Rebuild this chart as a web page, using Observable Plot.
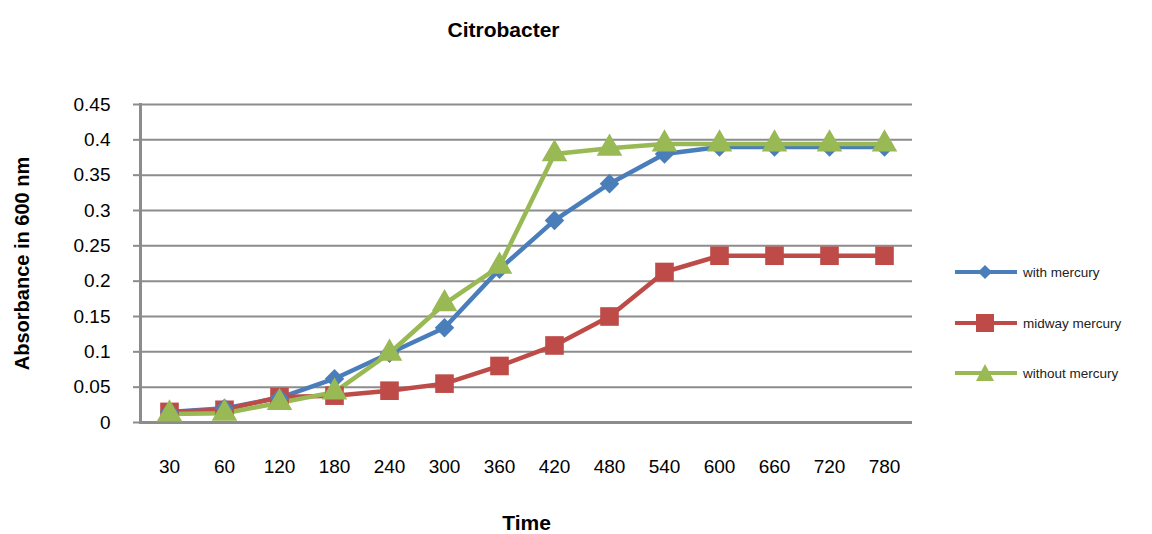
<!DOCTYPE html>
<html>
<head>
<meta charset="utf-8">
<script src="https://cdn.jsdelivr.net/npm/d3@7"></script>
<script src="https://cdn.jsdelivr.net/npm/@observablehq/plot@0.6"></script>
<style>
  html, body { margin: 0; padding: 0; background: #fff; }
  #wrap { position: relative; width: 1152px; height: 534px; font-family: "Liberation Sans", Arial, sans-serif; }
  .leg { position: absolute; left: 955px; display: flex; align-items: center; font-size: 13.5px; color: #222; font-family: "Liberation Sans", Arial, sans-serif; }
  .leg svg { margin-right: 6px; }
</style>
</head>
<body>
<div id="wrap"></div>
<script>
const times = ["30","60","120","180","240","300","360","420","480","540","600","660","720","780"];
const withMercury    = [0.015,0.02,0.035,0.062,0.098,0.134,0.217,0.286,0.338,0.38,0.39,0.39,0.39,0.39];
const midwayMercury  = [0.015,0.018,0.036,0.038,0.045,0.055,0.08,0.109,0.15,0.213,0.236,0.236,0.236,0.236];
const withoutMercury = [0.012,0.013,0.028,0.043,0.098,0.168,0.221,0.38,0.388,0.394,0.394,0.394,0.394,0.394];
const seriesNames = ["with mercury","midway mercury","without mercury"];
const seriesColors = ["#4a7ebb","#be4b48","#98b954"];
const yTicks = [0,0.05,0.1,0.15,0.2,0.25,0.3,0.35,0.4,0.45];
const title = "Citrobacter";
const xTitle = "Time";
const yTitle = "Absorbance in 600 nm";

const seriesValues = [withMercury, midwayMercury, withoutMercury];
const rows = [];
seriesNames.forEach((s, i) => times.forEach((t, j) => rows.push({series: s, time: t, value: seriesValues[i][j]})));

const font = "Liberation Sans, Arial, sans-serif";
const chart = Plot.plot({
  width: 1152, height: 534,
  marginLeft: 140, marginRight: 240, marginTop: 104, marginBottom: 112,
  style: {fontFamily: font, background: "#fff", overflow: "visible"},
  x: {type: "point", domain: times, padding: 0.5},
  y: {domain: [0, 0.45]},
  color: {domain: seriesNames, range: seriesColors},
  marks: [
    Plot.ruleY(yTicks, {stroke: "#8c8c8c", strokeWidth: 2}),
    Plot.ruleY([0], {stroke: "#8c8c8c", strokeWidth: 3}),
    Plot.frame({anchor: "left", stroke: "#8c8c8c", strokeWidth: 3}),
    Plot.axisY({ticks: yTicks, tickSize: 7, tickPadding: 23, stroke: "#8c8c8c", strokeWidth: 2, fontSize: 19, fill: "#000",
      tickFormat: d => String(+d.toFixed(2)), label: null}),
    Plot.axisX({tickSize: 0, tickPadding: 37, fontSize: 19, fill: "#000", label: null}),
    Plot.line(rows, {x: "time", y: "value", z: "series", stroke: "series", strokeWidth: 4.5}),
    Plot.dot(rows.filter(d => d.series === "midway mercury"), {x: "time", y: "value", symbol: "square", r: 10.5, fill: "series", stroke: null}),
    Plot.dot(rows.filter(d => d.series === "with mercury"), {x: "time", y: "value", symbol: "square", rotate: 45, r: 7.8, fill: "series", stroke: null}),
    Plot.dot(rows.filter(d => d.series === "without mercury"), {x: "time", y: "value", symbol: "triangle", r: 9.5, fill: "series", stroke: null}),
    Plot.text([yTitle], {frameAnchor: "left", dx: -118, rotate: -90, textAnchor: "middle", fontWeight: "bold", fontSize: 20, fill: "#000"}),
    Plot.text([xTitle], {frameAnchor: "bottom", dy: 107, textAnchor: "middle", fontWeight: "bold", fontSize: 21, fill: "#000"}),
    Plot.text([title], {frameAnchor: "top", dy: -82, dx: -23, textAnchor: "middle", fontWeight: "bold", fontSize: 21, fill: "#000"})
  ]
});
const wrap = document.getElementById("wrap");
wrap.appendChild(chart);

const legendY = [272, 323, 373];
const legShapes = [
  c => `<rect x="25" y="4" width="10" height="10" fill="${c}" transform="rotate(45 30 9)"/>`,
  c => `<rect x="21" y="0" width="18" height="18" fill="${c}"/>`,
  c => `<path d="M30,0 L39,17 L21,17 Z" fill="${c}"/>`
];
seriesNames.forEach((s, i) => {
  const d = document.createElement("div");
  d.className = "leg";
  d.style.top = (legendY[i] - 9) + "px";
  d.innerHTML = `<svg width="62" height="18"><line x1="0" x2="62" y1="9" y2="9" stroke="${seriesColors[i]}" stroke-width="4"/>${legShapes[i](seriesColors[i])}</svg><span>${s}</span>`;
  wrap.appendChild(d);
});
</script>
</body>
</html>
